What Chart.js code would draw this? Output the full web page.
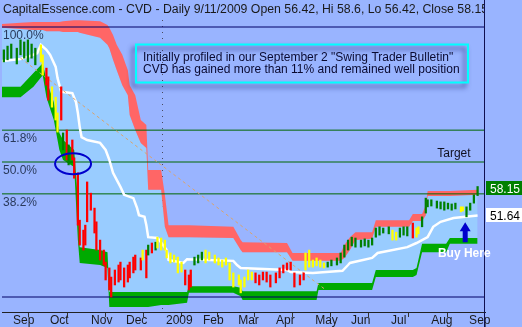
<!DOCTYPE html>
<html>
<head>
  <title>CVD Daily</title>
  <script src="https://cdn.jsdelivr.net/npm/chart.js"></script>
  <style>
    body { margin: 0; background: rgb(153,180,255); }
    canvas { display: block; }
  </style>
</head>
<body>
  <canvas id="cvdChart" width="522" height="327"></canvas>

  <script>
    // x values are trading days counted from late Aug 2008, y values are prices
    const monthDays = [4.3, 24.3, 46.5, 65.4, 87, 107, 126, 146.5, 167.6, 187, 208.6, 230.3, 250.8];
    const monthLabels = ['Sep', 'Oct', 'Nov', 'Dec', '2009', 'Feb', 'Mar', 'Apr', 'May', 'Jun', 'Jul', 'Aug', 'Sep'];
    const yearLineDay = 86.5;

    // cloud: red upper band, green lower band
    const bandDays = [0, 10, 17, 22, 24, 28, 31, 33, 39, 41, 42, 53, 57, 58, 60, 62, 65, 68, 69, 72, 75, 78, 79, 86, 88, 90,
      100, 101, 125, 129, 130, 154, 157, 170, 171, 183, 185, 188, 191, 200, 202, 220, 222, 224, 227, 229, 230, 240, 242, 257];
    const redTop = [97.7, 98.0, 98.2, 98.2, 98.2, 98.2, 98.2, 98.4, 98.6, 98.6, 98.6, 98.4, 97.5, 96.8, 95.1, 92.7, 90.3, 86.6, 83.0, 80.6, 74.6, 73.4, 62.6, 62.6, 56.6, 49.3,
      49.3, 49.3, 48.9, 45.7, 45.2, 45.0, 42.6, 42.6, 42.6, 42.6, 44.5, 46.4, 47.6, 47.6, 50.5, 50.5, 52.0, 52.0, 52.0, 54.1, 57.5, 57.5, 57.5, 57.8];
    const redBottom = [96.8, 96.5, 96.3, 96.3, 96.0, 96.0, 96.0, 95.8, 95.8, 95.8, 95.6, 94.4, 92.7, 91.9, 89.1, 86.6, 83.0, 80.6, 75.8, 72.2, 69.1, 67.9, 57.8, 57.8, 48.9, 46.4,
      46.4, 46.4, 46.2, 43.3, 42.8, 42.8, 40.7, 40.7, 40.7, 40.7, 41.4, 43.3, 45.7, 46.0, 48.9, 48.9, 50.3, 50.3, 50.3, 51.7, 56.3, 56.3, 56.3, 56.6];
    const greenTop = [82.6, 82.6, 85.9, 88.3, 84.2, 78.9, 71.5, 69.8, 67.4, 55.4, 44.0, 43.3, 42.8, 33.2, 33.2, 33.2, 33.2, 33.2, 33.2, 33.2, 33.2, 33.2, 33.2, 33.2, 33.2, 33.2,
      33.2, 34.6, 34.6, 34.2, 33.4, 33.4, 33.4, 33.4, 35.4, 35.4, 35.4, 35.4, 35.4, 35.4, 38.5, 38.5, 38.5, 39.0, 44.8, 44.8, 44.8, 44.8, 46.2, 46.2];
    const greenBottom = [80.1, 80.1, 82.6, 85.4, 80.1, 74.6, 67.4, 65.0, 63.3, 45.7, 40.2, 39.7, 39.0, 29.6, 29.6, 29.6, 29.6, 29.6, 29.6, 29.6, 29.6, 29.6, 29.6, 30.1, 30.1, 30.1,
      30.6, 33.0, 33.0, 32.2, 31.3, 31.3, 31.3, 31.3, 33.7, 33.7, 33.7, 33.7, 33.7, 33.7, 36.8, 36.8, 36.8, 37.3, 42.8, 42.8, 42.8, 42.8, 44.8, 44.8];

    // white trailing line
    const whiteDays = [0, 10, 15, 19, 21, 24, 26, 29, 30, 32, 38, 40, 41, 42, 43, 46, 53, 56, 58, 60, 62, 64, 66, 71, 73, 74, 77, 78, 79, 84, 85, 89, 90,
      98, 100, 125, 127, 129, 154, 156, 168, 184, 187, 188, 200, 203, 219, 224, 230, 233, 237, 244, 257];
    const whiteLine = [88.8, 89.3, 90.0, 90.7, 92.7, 91.5, 90.3, 87.4, 84.7, 81.4, 81.1, 78.9, 76.3, 72.9, 70.5, 69.8, 69.1, 67.4, 65.0, 61.9, 60.2, 58.5, 56.6, 55.8, 53.4, 51.7, 51.3, 49.3, 46.4, 46.2, 45.7, 43.3, 40.9,
      40.2, 41.1, 40.7, 39.7, 39.0, 38.5, 38.0, 37.8, 38.3, 39.7, 40.2, 41.4, 42.6, 44.0, 45.0, 46.4, 48.9, 50.1, 51.0, 51.64];

    // daily bars (sampled), r = down, g = up, y = neutral
    const candleDays = [1, 3, 5, 8, 10, 12, 14, 16, 18, 21,
      22, 24, 25, 27, 29, 30, 32, 33, 35, 36, 38, 39, 41, 42, 44, 45,
      46, 48, 50, 51, 53, 55, 56, 58, 59, 61, 63, 64,
      66, 68, 69, 71, 72, 75, 76, 78, 79, 81, 83, 84, 86,
      88, 89, 91, 93, 95, 97, 99, 101, 102, 104,
      106, 108, 110, 112, 115, 117, 119, 121, 123, 125,
      128, 129, 131, 133, 135, 137, 139, 141, 143, 145,
      148, 150, 152, 154, 156, 158, 161, 163, 164, 166,
      168, 170, 172, 174, 176, 178, 181, 183, 185, 187,
      189, 191, 194, 196, 198, 200, 202, 204, 206,
      209, 211, 213, 215, 217, 219, 222, 224, 225, 227,
      229, 230, 232, 235, 237, 239, 241, 243, 245, 248, 249,
      251, 253, 255, 257];
    const candleHigh = [91.5, 92.4, 92.9, 91.9, 93.9, 93.4, 93.9, 92.9, 91.9, 92.7,
      90.3, 87.1, 85.0, 82.6, 80.1, 76.3, 82.6, 71.5, 72.2, 68.6, 69.8, 65.5, 61.9, 50.5, 48.1, 49.3,
      59.7, 57.0, 53.4, 50.1, 45.7, 43.3, 40.4, 39.0, 36.8, 38.5, 39.7, 40.4,
      39.0, 39.7, 40.4, 41.6, 42.1, 41.4, 43.3, 43.3, 44.5, 45.0, 45.2, 46.4, 46.2,
      45.7, 43.3, 42.6, 42.1, 41.6, 40.4, 38.5, 37.3, 38.5, 41.6,
      42.1, 42.8, 43.3, 42.8, 42.1, 41.4, 40.9, 41.4, 40.2, 37.8,
      37.3, 36.1, 36.8, 38.5, 38.0, 37.8, 37.3, 38.0, 38.0, 37.3,
      37.8, 39.0, 39.7, 40.2, 40.4, 37.8, 37.3, 37.8, 42.6, 43.3,
      40.9, 41.4, 40.9, 40.2, 40.4, 40.9, 41.4, 42.6, 44.5, 45.7,
      46.4, 46.2, 45.7, 46.0, 45.7, 46.2, 48.6, 48.9, 48.6,
      48.9, 48.1, 47.6, 48.6, 48.9, 48.9, 49.8, 48.6, 48.9, 51.3,
      55.8, 55.4, 55.4, 55.1, 54.9, 54.9, 54.6, 54.4, 54.6, 53.7, 53.7,
      53.7, 54.6, 56.6, 58.6];
    const candleLow = [88.6, 89.1, 89.5, 88.1, 90.3, 89.5, 88.6, 89.5, 87.9, 88.6,
      85.4, 83.0, 79.4, 77.7, 74.6, 71.7, 74.6, 67.4, 65.0, 63.8, 65.0, 60.6, 49.3, 44.5, 43.3, 44.5,
      50.1, 52.9, 47.4, 43.3, 40.9, 39.7, 36.1, 33.7, 32.0, 34.9, 35.6, 36.1,
      34.4, 35.6, 36.6, 37.8, 38.5, 38.5, 40.9, 36.6, 42.1, 42.6, 43.3, 43.8, 43.3,
      43.3, 41.4, 40.2, 40.4, 37.8, 38.0, 34.9, 33.7, 34.4, 39.7,
      40.2, 40.9, 40.2, 40.9, 40.2, 39.7, 39.2, 39.7, 36.1, 34.4,
      34.9, 33.0, 34.4, 36.1, 36.1, 35.4, 34.9, 36.1, 35.6, 34.4,
      35.4, 36.6, 37.8, 38.5, 38.5, 34.4, 34.9, 36.1, 38.5, 39.2,
      39.2, 39.5, 39.2, 39.0, 39.2, 39.5, 39.7, 40.2, 41.6, 43.3,
      44.3, 44.0, 44.0, 44.3, 44.0, 44.5, 46.4, 46.9, 47.4,
      47.2, 45.7, 45.7, 46.4, 46.9, 46.7, 46.2, 46.4, 47.2, 48.9,
      52.2, 53.7, 53.9, 53.4, 53.2, 52.9, 53.2, 52.9, 53.2, 52.5, 52.7,
      51.3, 52.9, 54.6, 56.42];
    const candleColor = ['g', 'g', 'g', 'g', 'g', 'g', 'g', 'g', 'g', 'y',
      'y', 'r', 'r', 'y', 'y', 'y', 'r', 'g', 'r', 'g', 'r', 'r', 'r', 'r', 'r', 'r',
      'r', 'r', 'r', 'r', 'r', 'r', 'r', 'r', 'r', 'r', 'r', 'r',
      'r', 'r', 'r', 'r', 'r', 'r', 'y', 'r', 'g', 'r', 'g', 'y', 'y',
      'y', 'y', 'y', 'y', 'y', 'y', 'r', 'r', 'r', 'g',
      'g', 'g', 'y', 'y', 'y', 'y', 'y', 'y', 'y', 'y',
      'y', 'y', 'y', 'y', 'y', 'r', 'r', 'r', 'r', 'r',
      'r', 'r', 'r', 'r', 'r', 'r', 'r', 'r', 'y', 'y',
      'y', 'y', 'y', 'y', 'g', 'g', 'g', 'g', 'g', 'g',
      'g', 'g', 'g', 'g', 'g', 'g', 'g', 'g', 'g',
      'g', 'y', 'y', 'g', 'g', 'g', 'r', 'y', 'y', 'g',
      'g', 'g', 'g', 'g', 'g', 'g', 'g', 'g', 'g', 'y', 'y',
      'g', 'g', 'g', 'g'];

    // retracement levels (high 97, low 32)
    const fibLevels = [97.0, 72.17, 64.5, 56.83, 32.0];
    const fibNames = ['100.0%', '61.8%', '50.0%', '38.2%', ''];
    const trendDays = [10, 175];
    const trendPrice = [89.5, 33.7];
    const lastClose = 58.15;
    const lastStop = 51.64;

    const title = 'CapitalEssence.com - CVD - Daily 9/11/2009 Open 56.42, Hi 58.6, Lo 56.42, Close 58.15';
    const note = ['Initially profiled in our September 2 "Swing Trader Bulletin"',
                  'CVD has gained more than 11% and remained well position'];

    const FONT = '"Liberation Sans", Arial, sans-serif';
    const BG = 'rgb(153,180,255)';
    const X_MAX = 261;
    const barColors = { r: '#ff0000', g: '#008000', y: '#ffff00' };
    const xy = (xs, ys) => xs.map((v, i) => ({ x: v, y: ys[i] }));
    const noLine = 'rgba(0,0,0,0)';

    const datasets = [
      {
        type: 'bar', label: 'Price',
        data: candleDays.map((d, i) => ({ x: d, y: [candleLow[i], candleHigh[i]] })),
        backgroundColor: candleColor.map(c => barColors[c]),
        barThickness: 1.6, borderWidth: 0, order: 0
      },
      { label: 'Trend', data: xy(trendDays, trendPrice), borderColor: '#d9a46f', borderWidth: 1, borderDash: [3, 3], pointRadius: 0, fill: false, order: 1 },
      { label: 'Stop', data: xy(whiteDays, whiteLine), borderColor: '#ffffff', borderWidth: 2.5, pointRadius: 0, fill: false, order: 2 }
    ];
    fibLevels.forEach((lv, i) => {
      datasets.push({
        label: fibNames[i] || '0%',
        data: [{ x: 0, y: lv }, { x: X_MAX, y: lv }],
        borderColor: (i === 0 || i === fibLevels.length - 1) ? '#000066' : '#006600',
        borderWidth: 1, pointRadius: 0, fill: false, order: 3
      });
    });
    const gTop = datasets.length;
    datasets.push(
      { label: 'greenTop', data: xy(bandDays, greenTop), borderColor: noLine, borderWidth: 0, pointRadius: 0, fill: gTop + 1, backgroundColor: 'rgb(0,170,0)', order: 5 },
      { label: 'greenBottom', data: xy(bandDays, greenBottom), borderColor: noLine, borderWidth: 0, pointRadius: 0, fill: false, order: 5 },
      { label: 'redTop', data: xy(bandDays, redTop), borderColor: noLine, borderWidth: 0, pointRadius: 0, fill: gTop + 3, backgroundColor: 'rgb(255,102,102)', order: 5 },
      { label: 'redBottom', data: xy(bandDays, redBottom), borderColor: noLine, borderWidth: 0, pointRadius: 0, fill: gTop, backgroundColor: 'rgb(153,204,255)', order: 6 }
    );

    const decor = {
      id: 'decor',
      beforeDraw(chart) {
        const c = chart.ctx;
        c.save();
        c.fillStyle = BG;
        c.fillRect(0, 0, chart.width, chart.height);
        c.restore();
      },
      beforeDatasetsDraw(chart) {
        const { ctx: c, chartArea: a, scales: { x } } = chart;
        const px = Math.round(x.getPixelForValue(yearLineDay));
        c.save();
        c.fillStyle = '#4a4a60';
        for (let y = a.top + 2; y < a.bottom; y += 6) c.fillRect(px, y, 1, 1);
        c.restore();
      },
      afterDatasetsDraw(chart) {
        const { ctx: c, chartArea: a, scales: { x, y } } = chart;
        c.save();
        c.font = '12px ' + FONT;
        c.textBaseline = 'alphabetic';

        // level names
        c.fillStyle = '#2a3a5c';
        fibLevels.forEach((lv, i) => {
          if (fibNames[i]) c.fillText(fibNames[i], a.left + 1, y.getPixelForValue(lv) + 12);
        });

        // ellipse on the breakdown
        c.strokeStyle = '#0000cc';
        c.lineWidth = 2;
        c.beginPath();
        c.ellipse(x.getPixelForValue(38.4), y.getPixelForValue(64.1), 18, 10.5, 0, 0, Math.PI * 2);
        c.stroke();

        // note box
        c.save();
        c.shadowColor = 'rgba(20,30,110,0.7)';
        c.shadowBlur = 5;
        c.shadowOffsetX = -3;
        c.shadowOffsetY = 4;
        c.strokeStyle = '#00ffff';
        c.lineWidth = 2;
        c.strokeRect(136, 44.5, 332, 38);
        c.restore();
        c.fillStyle = '#0a0a30';
        c.fillText(note[0], 143, 61);
        c.fillText(note[1], 143, 72.5);

        // target
        c.fillStyle = '#101020';
        c.fillText('Target', x.getPixelForValue(235.2), y.getPixelForValue(fibLevels[2]) - 5);

        // arrow
        const ax = x.getPixelForValue(250.3);
        const tip = y.getPixelForValue(50.0), base = y.getPixelForValue(45.2);
        c.fillStyle = '#0000cc';
        c.beginPath();
        c.moveTo(ax, tip);
        c.lineTo(ax + 5.5, tip + 9);
        c.lineTo(ax + 2.5, tip + 9);
        c.lineTo(ax + 2.5, base);
        c.lineTo(ax - 2.5, base);
        c.lineTo(ax - 2.5, tip + 9);
        c.lineTo(ax - 5.5, tip + 9);
        c.closePath();
        c.fill();
        c.restore();
      },
      afterDraw(chart) {
        const { ctx: c, chartArea: a, scales: { x, y } } = chart;
        c.save();
        const edge = Math.round(a.right);

        // title, cut at the panel edge
        c.save();
        c.beginPath();
        c.rect(0, 0, edge - 1, 18);
        c.clip();
        c.font = '12.3px ' + FONT;
        c.fillStyle = '#1a1a1a';
        c.fillText(title, 3, 12.5);
        c.restore();

        // right edge line
        c.fillStyle = '#101050';
        c.fillRect(edge - 1, 0, 1, chart.height);

        // value tags
        c.font = '12px ' + FONT;
        [[lastClose, '#008000', '#ffffff'], [lastStop, '#ffffff', '#000000']].forEach(([v, bg, fg]) => {
          const cy = y.getPixelForValue(v);
          c.fillStyle = bg;
          c.fillRect(edge + 1, Math.round(cy - 7), chart.width - edge - 1, 14);
          c.fillStyle = fg;
          c.fillText(v.toFixed(2), edge + 5, cy + 4.5);
        });

        // buy here
        c.font = 'bold 12px ' + FONT;
        c.fillStyle = '#ffffff';
        c.textAlign = 'center';
        c.fillText('Buy Here', x.getPixelForValue(249.8), y.getPixelForValue(41.6));
        c.restore();
      }
    };

    const ctx = document.getElementById('cvdChart').getContext('2d');
    const chart = new Chart(ctx, {
      type: 'line',
      data: { datasets: datasets },
      options: {
        responsive: false,
        animation: false,
        devicePixelRatio: 1,
        layout: { padding: { left: 2, right: 37, top: 18, bottom: 0 } },
        plugins: { legend: { display: false }, tooltip: { enabled: false } },
        scales: {
          x: {
            type: 'linear', min: 0, max: X_MAX, offset: false,
            afterFit: s => { s.height = 15; },
            afterBuildTicks: s => { s.ticks = monthDays.map(v => ({ value: v })); },
            ticks: {
              autoSkip: false, maxRotation: 0, align: 'start', labelOffset: 3, padding: -2,
              color: '#1a1a1a', font: { family: FONT, size: 12, lineHeight: 1 },
              callback: (v, i) => monthLabels[i]
            },
            grid: { drawOnChartArea: false, drawTicks: true, tickLength: 5, tickColor: '#333' },
            border: { display: true, color: '#222', width: 1 }
          },
          y: { display: false, min: 28.39, max: 99.167 }
        }
      },
      plugins: [decor]
    });
  </script>
</body>
</html>
